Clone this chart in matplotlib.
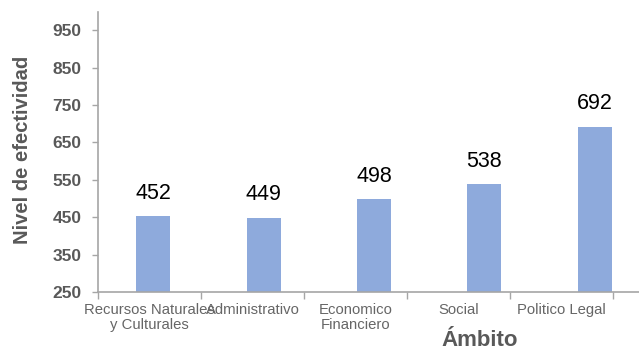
import matplotlib
matplotlib.use("Agg")
import matplotlib.pyplot as plt
import numpy as np

plt.rcParams['font.family'] = ['Liberation Sans', 'DejaVu Sans']

categories = ["Recursos Naturales\ny Culturales", "Administrativo", "Economico\nFinanciero", "Social", "Politico Legal"]
values = [452, 449, 498, 538, 692]
yticks = [250, 350, 450, 550, 650, 750, 850, 950]

W, H = 639, 352
fig = plt.figure(figsize=(W/100, H/100), dpi=100)
left, right_px, top, bottom = 98, 639, 11.5, 292
ax = fig.add_axes([left/W, (H-bottom)/H, (right_px-left)/W, (bottom-top)/H])

slot = 110.4  # bar spacing in px
tick_sp = 103.0
x = np.arange(len(values))
bar_col = '#8EAADC'
ax.bar(x, values, width=34/slot, color=bar_col, bottom=0)
ax.set_xlim(-0.5, (right_px-left)/slot - 0.5)
ax.set_ylim(250, 1000)

for xi, v in zip(x, values):
    ax.text(xi, v + 33, str(v), ha='center', va='bottom', fontsize=15.5, color='black')

gray = '#595959'
axcol = '#A6A6A6'
ax.set_yticks(yticks)
ax.set_yticklabels([str(t) for t in yticks], fontsize=12.5, fontweight='bold', color=gray)
ax.tick_params(axis='y', length=4, color=axcol, width=1, pad=8)

scale = tick_sp/slot
boundaries = [k*scale - 0.5 for k in range(len(values)+1)]
ax.set_xticks(boundaries)
ax.set_xticklabels([])
ax.set_xticks([(k+0.5)*scale - 0.5 for k in range(len(values))], minor=True)
ax.set_xticklabels(categories, minor=True, fontsize=10.7, color='#666666', linespacing=1.1)
ax.tick_params(axis='x', which='major', length=5, color=axcol, width=1)
ax.tick_params(axis='x', which='minor', length=0, pad=8)

for s in ['top', 'right']:
    ax.spines[s].set_visible(False)
for s in ['left', 'bottom']:
    ax.spines[s].set_color(axcol)
    ax.spines[s].set_linewidth(1.2)

ax.set_ylabel("Nivel de efectividad", fontsize=14.5, fontweight='bold', color=gray)
ax.yaxis.set_label_coords(-(98-23)/(right_px-left), (bottom-150)/(bottom-top))
ax.yaxis.label.set_va('center')
fig.text(480/W, 1-340/H, "Ámbito", fontsize=16, fontweight='bold', color=gray, ha='center', va='center')

fig.savefig("out.png", dpi=100)
